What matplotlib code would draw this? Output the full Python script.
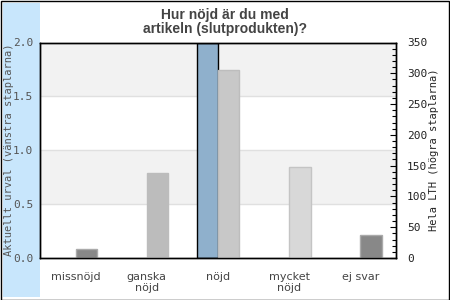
import numpy as np
import matplotlib
matplotlib.use("Agg")
import matplotlib.pyplot as plt
from matplotlib.patches import Rectangle
from matplotlib.ticker import MultipleLocator

# data
categories = ["missnöjd", "ganska\nnöjd", "nöjd", "mycket\nnöjd", "ej svar"]
urval_values = [0, 0, 2, 0, 0]          # left axis, current selection
lth_values = [15, 138, 306, 147, 38]    # right axis, whole LTH
lth_colors = ["#888888", "#bcbcbc", "#c8c8c8", "#d8d8d8", "#888888"]
lth_edges = ["#aaaaaa", "#bcbcbc", "#bdbdbd", "#c4c4c4", "#aaaaaa"]
left_ticks = [0.0, 0.5, 1.0, 1.5, 2.0]

mono = "DejaVu Sans Mono"
W, H = 450, 300

fig = plt.figure(figsize=(4.5, 3), dpi=100)
fig.patch.set_facecolor("white")

# outer frame and the blue strip on the left (behind the axes)
fig.patches.append(Rectangle((0.5 / W, 0.5 / H), 1 - 1.5 / W, 1 - 1.5 / H, transform=fig.transFigure,
                             fill=False, edgecolor="black", linewidth=1.0, zorder=-2))
fig.patches.append(Rectangle((3 / W, 3 / H), 37 / W, 294 / H, transform=fig.transFigure,
                             facecolor="#c8e6fc", edgecolor="none", zorder=-1))

ax = fig.add_axes([40 / W, 1 - 258 / H, 356 / W, (258 - 42.5) / H])
ax.set_facecolor("white")
ax2 = ax.twinx()

x = np.arange(len(categories))
w = 0.3

# background bands and grid
for lo in [0.5, 1.5]:
    ax.axhspan(lo, lo + 0.5, color="#f2f2f2", zorder=0, linewidth=0)
for t in [0.5, 1.0, 1.5]:
    ax.axhline(t, color="#e0e0e0", linewidth=1.0, zorder=0.5)

for xi, v in zip(x, urval_values):
    if v > 0:
        ax.bar(xi - w / 2, v, width=w, color="#8fb0cc", edgecolor="black", linewidth=1.0, zorder=2)

ax2.bar(x + w / 2, lth_values, width=w, color=lth_colors, edgecolor=lth_edges, linewidth=1.0, zorder=2)

ax.set_xlim(-0.5, len(categories) - 0.5)
ax.set_ylim(0, 2)
ax2.set_ylim(0, 350)

ax.set_xticks(x)
ax.set_xticklabels(categories, fontsize=8, color="#444444", linespacing=1.1)
ax.tick_params(axis="x", length=0, pad=10)

ax.set_yticks(left_ticks)
ax.set_yticklabels([f"{t:.1f}" for t in left_ticks], fontsize=8, color="#555555", family=mono)
ax.tick_params(axis="y", length=0, pad=5)

ax2.yaxis.set_major_locator(MultipleLocator(50))
ax2.yaxis.set_minor_locator(MultipleLocator(10))
ax2.tick_params(axis="y", which="major", direction="in", length=4, width=0.8, pad=8, labelsize=8, labelcolor="#222222")
ax2.tick_params(axis="y", which="minor", direction="in", length=3, width=0.8)
for lab in ax2.get_yticklabels():
    lab.set_family(mono)

for a in (ax, ax2):
    for s in a.spines.values():
        s.set_linewidth(1.0)
        s.set_color("black")

fig.text(9 / W, 0.5, "Aktuellt urval (vänstra staplarna)", rotation=90, ha="center", va="center",
         fontsize=7.5, family=mono, color="#555555")
fig.text(434 / W, 0.5, "Hela LTH (högra staplarna)", rotation=90, ha="center", va="center",
         fontsize=7.5, family=mono, color="#222222")

fig.text(0.5, 1 - 22 / H, "Hur nöjd är du med\nartikeln (slutprodukten)?", ha="center", va="center",
         fontsize=10, fontweight="bold", family="Liberation Sans", color="#444444", linespacing=1.0)

fig.savefig("out.png", dpi=100)
